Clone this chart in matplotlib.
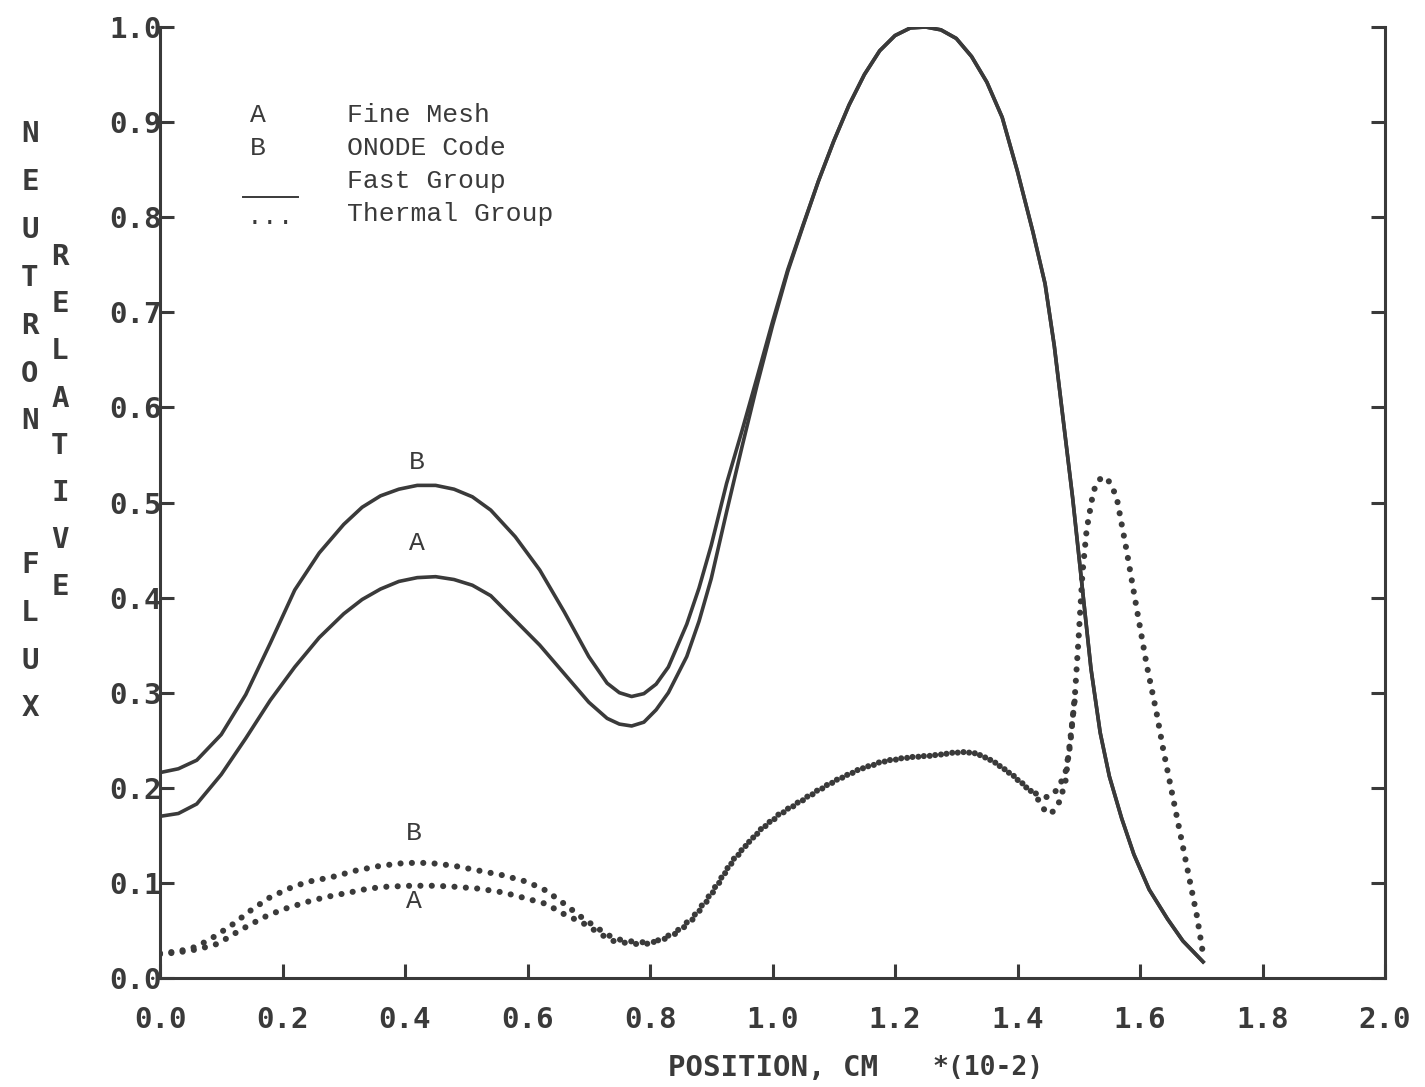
import matplotlib
matplotlib.use("Agg")
import matplotlib.pyplot as plt
import matplotlib.transforms as mtransforms
from matplotlib.lines import Line2D

# ---------------- data ----------------
fast_b_x = [0.00, 0.03, 0.06, 0.10, 0.14, 0.18, 0.22, 0.26, 0.30, 0.33, 0.36, 0.39,
            0.42, 0.45, 0.48, 0.51, 0.54, 0.58, 0.62, 0.66, 0.70, 0.73, 0.75, 0.77,
            0.79, 0.81, 0.83, 0.86, 0.88, 0.90, 0.925, 0.95, 0.975, 1.00, 1.025, 1.05,
            1.075, 1.10, 1.125, 1.15, 1.175, 1.20, 1.225, 1.25, 1.275, 1.30, 1.325,
            1.35, 1.375, 1.40, 1.425, 1.445, 1.46, 1.475, 1.49, 1.505, 1.52, 1.535,
            1.55, 1.57, 1.59, 1.615, 1.645, 1.67, 1.703]
fast_b_y = [0.216, 0.220, 0.229, 0.256, 0.298, 0.352, 0.408, 0.447, 0.477, 0.495, 0.507, 0.514,
            0.518, 0.518, 0.514, 0.506, 0.492, 0.464, 0.429, 0.385, 0.338, 0.310, 0.300, 0.296,
            0.299, 0.309, 0.327, 0.372, 0.410, 0.455, 0.520, 0.575, 0.632, 0.690, 0.745, 0.792,
            0.838, 0.880, 0.918, 0.950, 0.975, 0.991, 0.999, 1.000, 0.997, 0.988, 0.969,
            0.942, 0.905, 0.848, 0.785, 0.730, 0.665, 0.585, 0.505, 0.415, 0.325, 0.258,
            0.212, 0.168, 0.130, 0.093, 0.062, 0.039, 0.017]

fast_a_x = [0.00, 0.03, 0.06, 0.10, 0.14, 0.18, 0.22, 0.26, 0.30, 0.33, 0.36, 0.39,
            0.42, 0.45, 0.48, 0.51, 0.54, 0.58, 0.62, 0.66, 0.70, 0.73, 0.75, 0.77,
            0.79, 0.81, 0.83, 0.86, 0.88, 0.90, 0.925, 0.95, 0.975, 1.00, 1.025, 1.05,
            1.075, 1.10, 1.125, 1.15, 1.175, 1.20, 1.225, 1.25, 1.275, 1.30, 1.325,
            1.35, 1.375, 1.40, 1.425, 1.445, 1.46, 1.475, 1.49, 1.505, 1.52, 1.535,
            1.55, 1.57, 1.59, 1.615, 1.645, 1.67, 1.703]
fast_a_y = [0.170, 0.173, 0.183, 0.214, 0.252, 0.292, 0.327, 0.358, 0.383, 0.398, 0.409, 0.417,
            0.421, 0.422, 0.419, 0.413, 0.402, 0.376, 0.350, 0.320, 0.290, 0.273, 0.267, 0.265,
            0.269, 0.282, 0.300, 0.338, 0.375, 0.420, 0.490, 0.558, 0.624, 0.686, 0.743, 0.791,
            0.838, 0.880, 0.918, 0.950, 0.975, 0.991, 0.999, 1.000, 0.997, 0.988, 0.969,
            0.942, 0.905, 0.848, 0.785, 0.730, 0.665, 0.585, 0.505, 0.415, 0.325, 0.258,
            0.212, 0.168, 0.130, 0.093, 0.062, 0.039, 0.017]

therm_b_x = [0.00, 0.03, 0.06, 0.09, 0.12, 0.15, 0.18, 0.21, 0.24, 0.28, 0.32, 0.36,
             0.40, 0.44, 0.48, 0.52, 0.56, 0.60, 0.63, 0.66, 0.69, 0.72, 0.74, 0.76,
             0.78, 0.80, 0.82, 0.84, 0.865, 0.89, 0.91, 0.93, 0.955, 0.98, 1.01, 1.04,
             1.07, 1.10, 1.14, 1.18, 1.22, 1.26, 1.30, 1.33, 1.36, 1.39, 1.415, 1.435,
             1.45, 1.465, 1.478, 1.486, 1.494, 1.500, 1.506, 1.513, 1.524, 1.533, 1.543,
             1.552, 1.562, 1.578, 1.595, 1.611, 1.627, 1.638, 1.649, 1.660, 1.671, 1.682,
             1.693, 1.703]
therm_b_y = [0.026, 0.028, 0.033, 0.044, 0.057, 0.072, 0.085, 0.094, 0.101, 0.106, 0.113, 0.118,
             0.121, 0.121, 0.118, 0.113, 0.108, 0.101, 0.092, 0.078, 0.063, 0.050, 0.042, 0.039,
             0.038, 0.037, 0.040, 0.046, 0.058, 0.078, 0.097, 0.118, 0.138, 0.156, 0.172, 0.184,
             0.196, 0.207, 0.219, 0.228, 0.232, 0.234, 0.237, 0.237, 0.228, 0.214, 0.200, 0.192,
             0.190, 0.198, 0.215, 0.245, 0.300, 0.360, 0.425, 0.472, 0.512, 0.524, 0.527,
             0.520, 0.505, 0.450, 0.387, 0.329, 0.279, 0.240, 0.205, 0.170, 0.135, 0.100,
             0.065, 0.025]

therm_a_x = [0.00, 0.03, 0.06, 0.09, 0.11, 0.13, 0.17, 0.20, 0.24, 0.27, 0.31, 0.34,
             0.37, 0.41, 0.45, 0.48, 0.52, 0.56, 0.59, 0.63, 0.66, 0.69, 0.71, 0.725,
             0.74, 0.76, 0.79, 0.82, 0.845, 0.87, 0.895, 0.915, 0.935, 0.96, 0.985, 1.015,
             1.045, 1.075, 1.105, 1.145, 1.185, 1.225, 1.265, 1.305, 1.335, 1.365, 1.395,
             1.42, 1.437, 1.447, 1.458, 1.468, 1.478, 1.486, 1.494]
therm_a_y = [0.025, 0.027, 0.030, 0.035, 0.042, 0.050, 0.064, 0.072, 0.080, 0.085, 0.090, 0.094,
             0.096, 0.097, 0.097, 0.096, 0.094, 0.090, 0.085, 0.078, 0.067, 0.058, 0.050, 0.044,
             0.039, 0.037, 0.035, 0.041, 0.050, 0.064, 0.085, 0.104, 0.124, 0.142, 0.158, 0.173,
             0.185, 0.197, 0.208, 0.220, 0.228, 0.232, 0.234, 0.238, 0.236, 0.226, 0.212,
             0.198, 0.185, 0.173, 0.175, 0.185, 0.205, 0.250, 0.295]

x_ticks = [0.0, 0.2, 0.4, 0.6, 0.8, 1.0, 1.2, 1.4, 1.6, 1.8, 2.0]
x_tick_labels = ["0.0", "0.2", "0.4", "0.6", "0.8", "1.0", "1.2", "1.4", "1.6", "1.8", "2.0"]
y_ticks = [0.0, 0.1, 0.2, 0.3, 0.4, 0.5, 0.6, 0.7, 0.8, 0.9, 1.0]
y_tick_labels = ["0.0", "0.1", "0.2", "0.3", "0.4", "0.5", "0.6", "0.7", "0.8", "0.9", "1.0"]

legend_keys = ["A", "B"]
legend_texts = ["Fine Mesh", "ONODE Code", "Fast Group", "Thermal Group"]
ylabel_outer = "NEUTRON  FLUX"
ylabel_inner = "RELATIVE"

# ---------------- styling ----------------
INK = "#3a3a3a"
PLOT_FONT = "DejaVu Sans Mono"
TYPE_FONT = "Liberation Mono"

fig = plt.figure(figsize=(14.25, 10.87), dpi=100)
fig.patch.set_facecolor("white")
ax = fig.add_axes([160 / 1425, 109 / 1087, 1225 / 1425, 951 / 1087])
ax.set_xlim(0, 2.0)
ax.set_ylim(0, 1.0)
ax.set_facecolor("white")

for side in ["left", "bottom", "right"]:
    ax.spines[side].set_color(INK)
    ax.spines[side].set_linewidth(2.2)
ax.spines["top"].set_visible(False)

ax.set_xticks(x_ticks)
ax.set_xticklabels(x_tick_labels)
ax.set_yticks(y_ticks)
ax.set_yticklabels(y_tick_labels)
ax.tick_params(axis="both", direction="in", length=10, width=2.2, color=INK,
               labelcolor=INK, labelsize=21)
ax.tick_params(axis="y", right=True, labelright=False, pad=-1)
ax.tick_params(axis="x", top=False, pad=20)
for lab in ax.get_xticklabels() + ax.get_yticklabels():
    lab.set_fontfamily(PLOT_FONT)
    lab.set_fontweight("bold")

# fast group (solid)
ax.plot(fast_b_x, fast_b_y, color=INK, lw=2.6, solid_joinstyle="round")
ax.plot(fast_a_x, fast_a_y, color=INK, lw=2.6, solid_joinstyle="round")

# thermal group (dotted)
dot = dict(color=INK, lw=4.4, linestyle=(0, (0.01, 1.85)), dash_capstyle="round")
ax.plot(therm_b_x, therm_b_y, **dot)
ax.plot(therm_a_x, therm_a_y, **dot)

# curve labels
lab_kw = dict(fontfamily=TYPE_FONT, fontsize=19, color=INK, ha="center", va="center")
ax.text(0.42, 0.543, "B", **lab_kw)
ax.text(0.42, 0.457, "A", **lab_kw)
ax.text(0.415, 0.152, "B", **lab_kw)
ax.text(0.415, 0.081, "A", **lab_kw)

# legend block
leg_kw = dict(fontfamily=TYPE_FONT, fontsize=19, color=INK, va="center")
ax.text(0.16, 0.907, legend_keys[0], ha="center", **leg_kw)
ax.text(0.16, 0.873, legend_keys[1], ha="center", **leg_kw)
ax.add_line(Line2D([0.136, 0.225], [0.821, 0.821], color=INK, lw=1.4))
ax.text(0.18, 0.793, "...", ha="center", fontfamily=TYPE_FONT, fontsize=19,
        color=INK, va="baseline")
ys = [0.907, 0.873, 0.838, 0.803]
for t, yv in zip(legend_texts, ys):
    ax.text(0.305, yv, t, ha="left", **leg_kw)

# vertical axis titles (stacked letters)
lbl_kw = dict(fontfamily=PLOT_FONT, fontweight="bold", fontsize=21, color=INK,
              ha="center", va="center")
blend = mtransforms.blended_transform_factory(fig.transFigure, ax.transData)
for i, ch in enumerate(ylabel_outer):
    if ch != " ":
        fig.text(30 / 1425, 0.887 - i * 0.0503, ch, transform=blend, **lbl_kw)
for j, ch in enumerate(ylabel_inner):
    fig.text(60 / 1425, 0.758 - j * 0.0496, ch, transform=blend, **lbl_kw)

# x axis title
fig.text(773 / 1425, (1087 - 1068) / 1087, "POSITION, CM", fontfamily=PLOT_FONT,
         fontweight="bold", fontsize=21, color=INK, ha="center", va="center")
fig.text(988 / 1425, (1087 - 1068) / 1087, "*(10-2)", fontfamily=PLOT_FONT,
         fontweight="bold", fontsize=19, color=INK, ha="center", va="center")

fig.savefig("out.png", dpi=100, facecolor="white")
